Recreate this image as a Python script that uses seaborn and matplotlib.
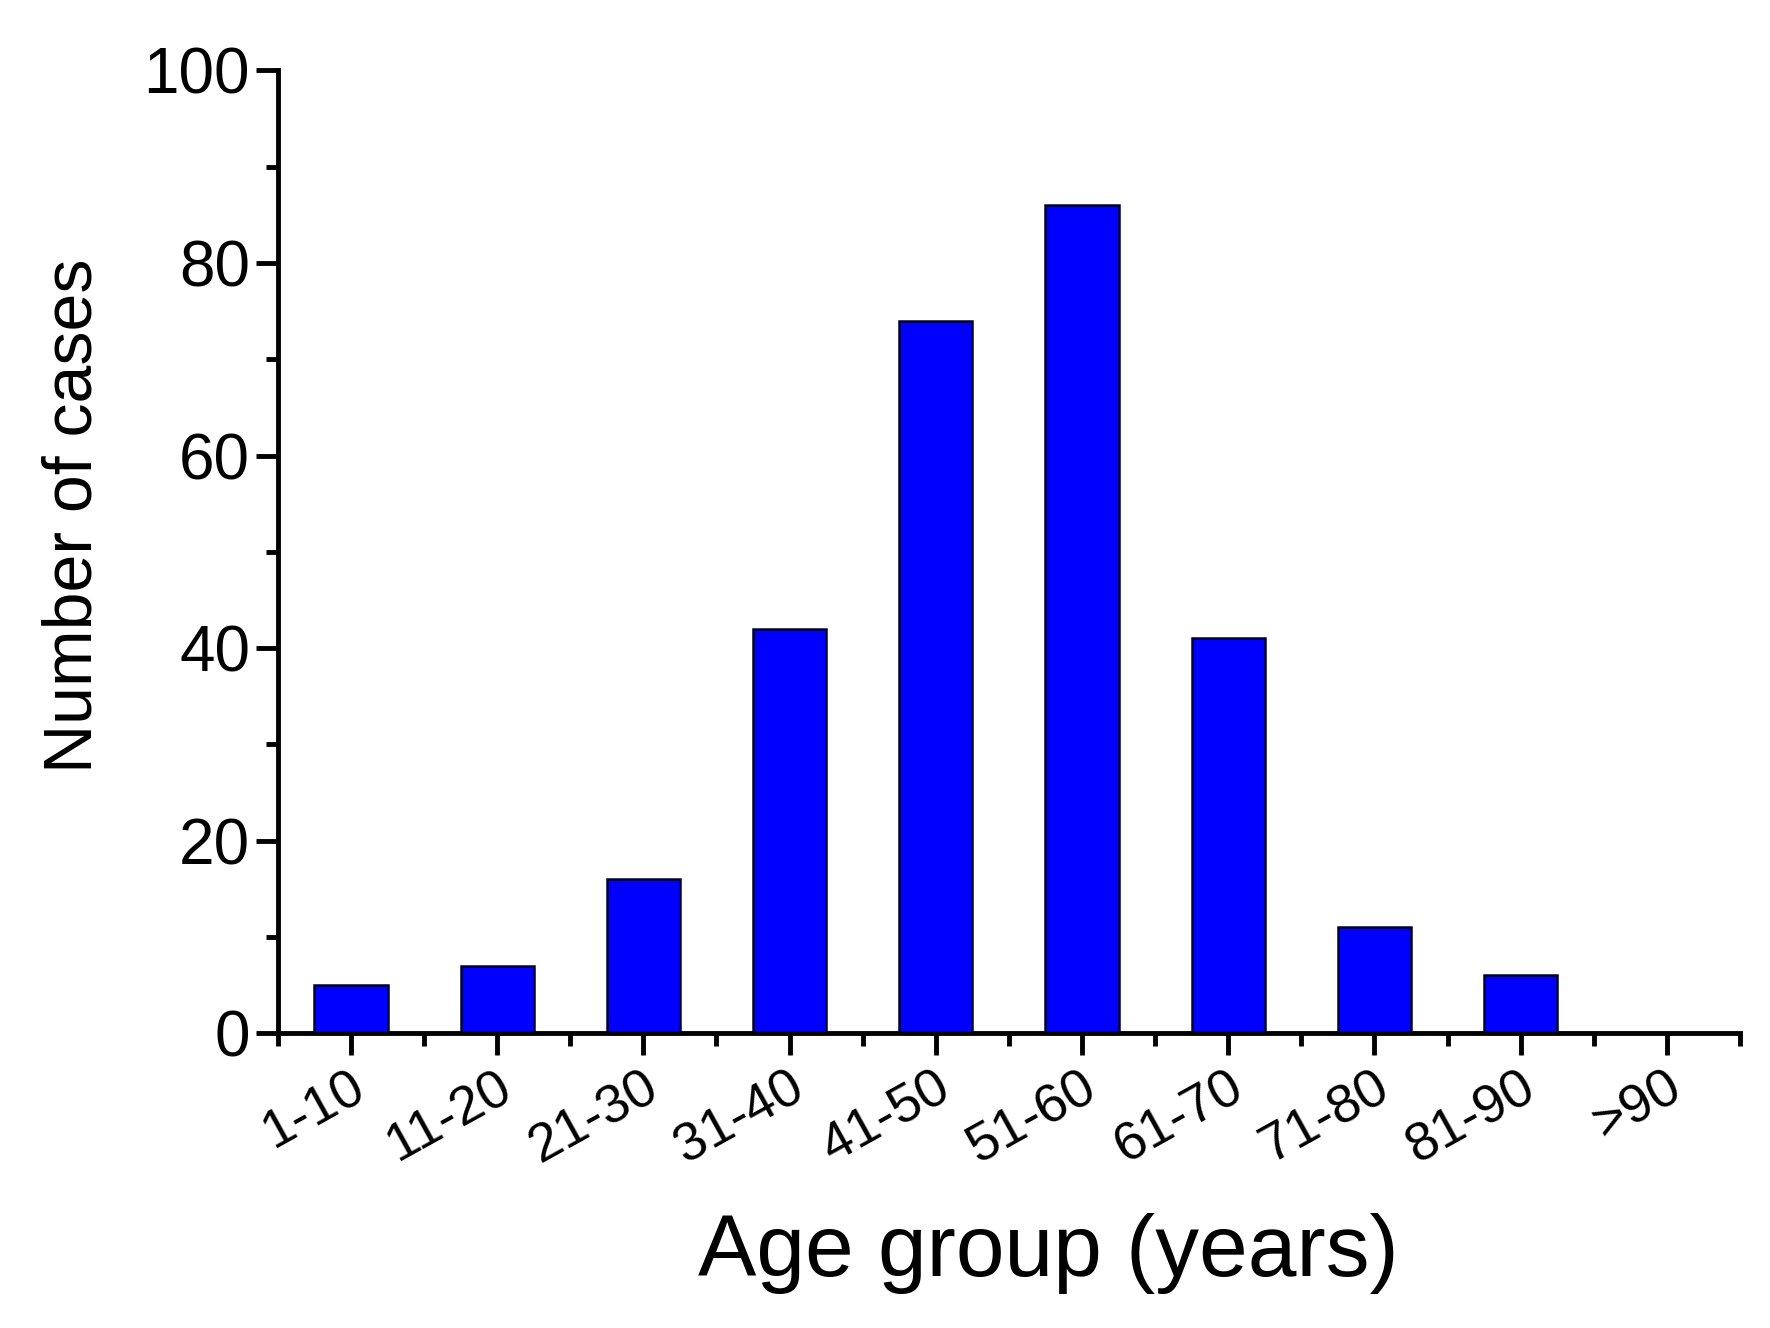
import numpy as np
import pandas as pd
import matplotlib
matplotlib.use("Agg")
import matplotlib.pyplot as plt
import matplotlib.transforms as mtransforms
import seaborn as sns
from matplotlib.ticker import MultipleLocator, FixedLocator

age_groups = ["1-10", "11-20", "21-30", "31-40", "41-50",
              "51-60", "61-70", "71-80", "81-90", ">90"]
cases = [5, 7, 16, 42, 74, 86, 41, 11, 6, 0]

df = pd.DataFrame({"age": age_groups, "cases": cases})

sns.set_style("ticks")
plt.rcParams["font.family"] = ["Liberation Sans", "DejaVu Sans"]
plt.rcParams["text.color"] = "black"
plt.rcParams["axes.labelcolor"] = "black"
plt.rcParams["xtick.color"] = "black"
plt.rcParams["ytick.color"] = "black"

fig = plt.figure(figsize=(17.7, 13.28), dpi=100)
ax = fig.add_axes([0.157, 0.222, 0.826, 0.725])

sns.barplot(data=df, x="age", y="cases", color="#0000FF", saturation=1,
            width=0.5, edgecolor="#000033", linewidth=1.8, ax=ax)

ax.set_xlim(-0.5, len(age_groups) - 0.5)
ax.set_ylim(0, 100)
ax.yaxis.set_major_locator(MultipleLocator(20))
ax.yaxis.set_minor_locator(MultipleLocator(10))
ax.xaxis.set_minor_locator(FixedLocator(np.arange(-0.5, len(age_groups), 1)))

for s in ["top", "right"]:
    ax.spines[s].set_visible(False)
for s in ["left", "bottom"]:
    ax.spines[s].set_linewidth(3.5)
    ax.spines[s].set_color("black")

ax.tick_params(axis="y", which="major", length=16, width=3.5, labelsize=46, pad=4)
ax.tick_params(axis="y", which="minor", length=9, width=3.5)
ax.tick_params(axis="x", which="major", length=16, width=3.5, labelsize=39, pad=5)
ax.tick_params(axis="x", which="minor", length=9, width=3.5)

# rotated labels sit a little right of their ticks
shift = mtransforms.ScaledTranslation(0.23, 0, fig.dpi_scale_trans)
for lab in ax.get_xticklabels():
    lab.set_rotation(29)
    lab.set_ha("right")
    lab.set_va("top")
    lab.set_transform(lab.get_transform() + shift)

ax.set_xlabel("Age group (years)", fontsize=63)
ax.set_ylabel("Number of cases", fontsize=49)
ax.xaxis.set_label_coords(0.527, -0.187)
ax.yaxis.set_label_coords(-0.118, 0.537)

fig.savefig("out.png", dpi=100, facecolor="white")
